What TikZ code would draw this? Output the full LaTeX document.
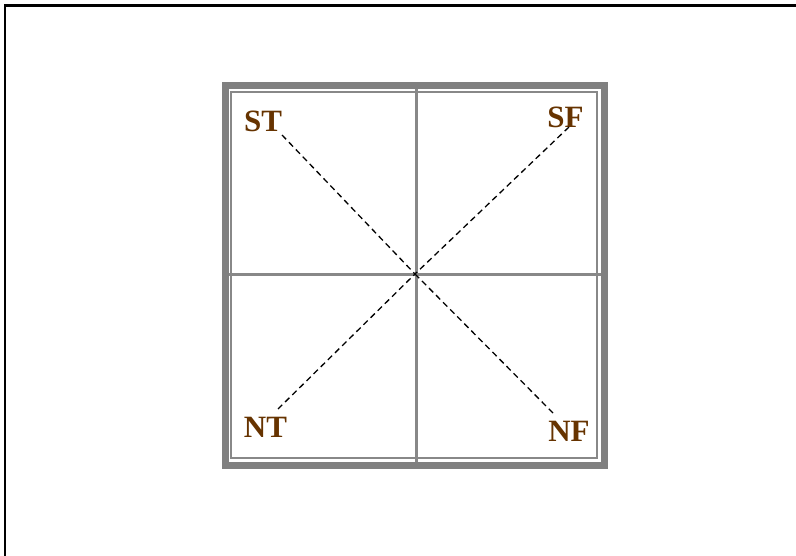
\documentclass[tikz,border=0pt]{standalone}
\usepackage{fontspec}
\setmainfont{Liberation Serif}
\definecolor{framegray}{HTML}{808080}
\definecolor{linegray}{HTML}{888888}
\definecolor{labelbrown}{HTML}{663300}
\tikzset{
  lbl/.style={inner sep=0pt, text=labelbrown, font=\fontsize{31}{36}\selectfont\bfseries},
  diag/.style={draw=black, line width=1.3pt, dash pattern=on 6pt off 4pt},
  thickframe/.style={draw=framegray, line width=7pt},
  thinframe/.style={draw=linegray, line width=2.3pt},
  axis/.style={draw=linegray, line width=2.3pt},
  outerframe/.style={draw=black, line width=2.5pt}
}
\begin{document}
\begin{tikzpicture}[x=1pt,y=-1pt]
\useasboundingbox (0,0) rectangle (796,556);
% page frame (top and left only)
\draw[outerframe] (5,556) -- (5,5.5) -- (796,5.5);
% box
\draw[thickframe] (225.5,85.5) rectangle (604.5,465.5);
\draw[thinframe] (231,92) rectangle (597,458);
\coordinate (top) at (416.5,89);
\coordinate (bot) at (416.5,462);
\coordinate (lft) at (229,274.5);
\coordinate (rgt) at (601,274.5);
\draw[axis] (top) -- (bot);
\draw[axis] (lft) -- (rgt);
% labels
\node[lbl] (ST) at (263,121) {ST};
\node[lbl] (SF) at (565.5,117.5) {SF};
\node[lbl] (NT) at (265.5,427.5) {NT};
\node[lbl] (NF) at (569,431.5) {NF};
% diagonal ends
\coordinate (c) at (415,274);
\coordinate (st) at (282,135);
\coordinate (sf) at (569,127);
\coordinate (nt) at (278,409);
\coordinate (nf) at (553,413);
\draw[diag] (st) -- (c);
\draw[diag] (sf) -- (c);
\draw[diag] (nt) -- (c);
\draw[diag] (nf) -- (c);
\end{tikzpicture}
\end{document}
